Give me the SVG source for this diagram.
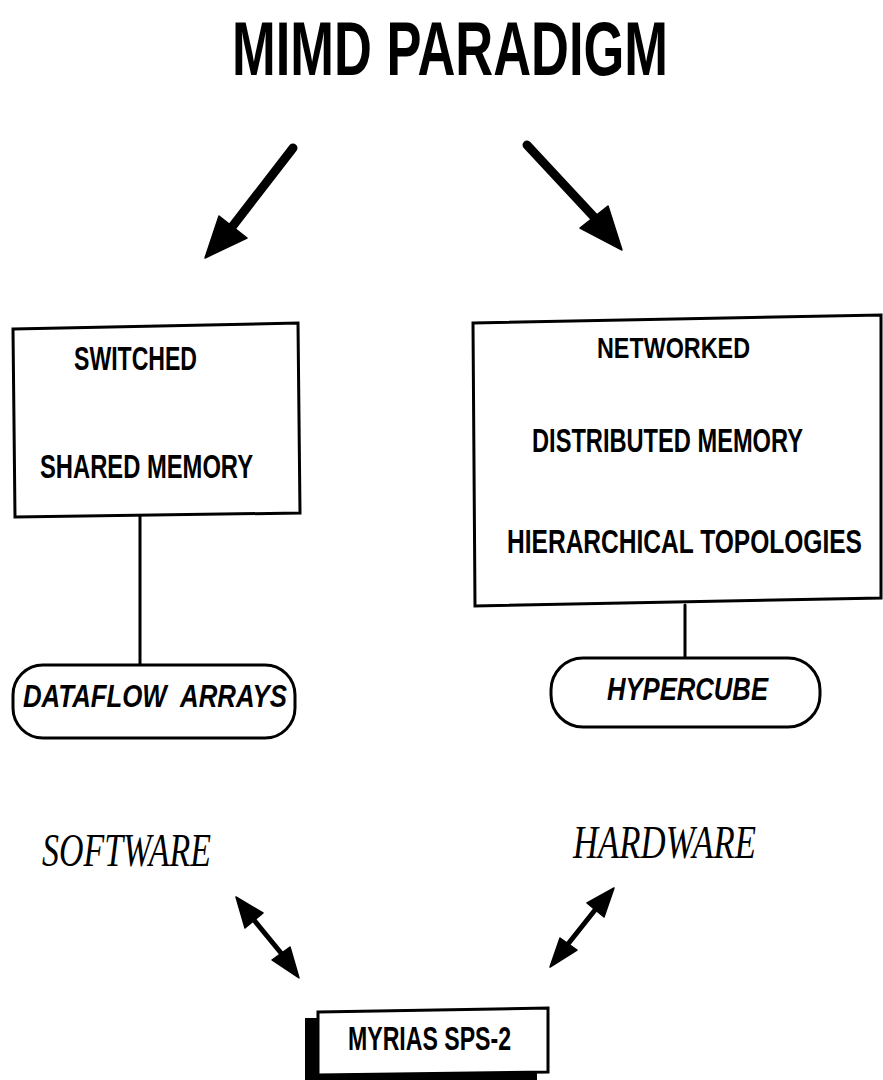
<svg xmlns="http://www.w3.org/2000/svg" width="883" height="1080" viewBox="0 0 883 1080">
<style>
.t{font-family:"Liberation Sans",Arial,sans-serif;font-weight:bold;fill:#000}
.ti{font-family:"Liberation Sans",Arial,sans-serif;font-weight:bold;font-style:italic;fill:#000}
.sc{font-family:"Liberation Serif","DejaVu Serif",serif;font-style:italic;fill:#000}
.box{fill:#fff;stroke:#000;stroke-width:3}
.ln{stroke:#000;fill:none;stroke-linecap:round}
.hd{fill:#000;stroke:#000;stroke-width:1.5;stroke-linejoin:round}
</style>
<rect width="883" height="1080" fill="#fff"/>
<g id="title">
<text class="t" x="232" y="75" font-size="76" textLength="436" lengthAdjust="spacingAndGlyphs">MIMD PARADIGM</text>
</g>
<g id="connectors">
<line class="ln" x1="293" y1="148" x2="232" y2="227" stroke-width="9"/>
<polygon class="hd" points="205,258 219,216 247,238"/>
<line class="ln" x1="527" y1="145" x2="594" y2="217" stroke-width="9"/>
<polygon class="hd" points="622,250 580,228 608,206"/>
<line class="ln" x1="140" y1="516" x2="140" y2="665" stroke-width="3"/>
<line class="ln" x1="685" y1="605" x2="685" y2="659" stroke-width="3"/>
<line class="ln" x1="254" y1="920" x2="281" y2="953" stroke-width="5"/>
<polygon class="hd" points="236,897 245,928 263,913"/>
<polygon class="hd" points="299,978 272,960 290,947"/>
<line class="ln" x1="595" y1="910" x2="568" y2="944" stroke-width="5"/>
<polygon class="hd" points="614,888 587,903 604,917"/>
<polygon class="hd" points="550,967 560,938 577,950"/>
</g>
<g id="switched-box">
<polygon class="box" points="13,329 298,323 300,513 15,517"/>
<text class="t" x="74" y="370" font-size="33" textLength="123" lengthAdjust="spacingAndGlyphs">SWITCHED</text>
<text class="t" x="40" y="478" font-size="34" textLength="213" lengthAdjust="spacingAndGlyphs">SHARED MEMORY</text>
</g>
<g id="networked-box">
<polygon class="box" points="473,323 881,315 881,598 475,606"/>
<text class="t" x="597" y="358" font-size="30" textLength="153" lengthAdjust="spacingAndGlyphs">NETWORKED</text>
<text class="t" transform="translate(532 452) scale(0.693 1)" x="0" y="0" font-size="34" textLength="391" lengthAdjust="spacingAndGlyphs">DISTRIBUTED MEMORY</text>
<text class="t" transform="translate(507 553) scale(0.72 1)" x="0" y="0" font-size="34" textLength="493" lengthAdjust="spacingAndGlyphs">HIERARCHICAL TOPOLOGIES</text>
</g>
<g id="dataflow">
<rect class="box" x="13" y="665" width="282" height="73" rx="30"/>
<text class="ti" x="23" y="707" font-size="31" textLength="264" lengthAdjust="spacingAndGlyphs">DATAFLOW&#160; ARRAYS</text>
</g>
<g id="hypercube">
<rect class="box" x="551" y="658" width="269" height="69" rx="32"/>
<text class="ti" x="607" y="700" font-size="31" textLength="161" lengthAdjust="spacingAndGlyphs">HYPERCUBE</text>
</g>
<g id="software">
<text class="sc" x="42" y="866" font-size="46" textLength="169" lengthAdjust="spacingAndGlyphs">SOFTWARE</text>
</g>
<g id="hardware">
<text class="sc" x="573" y="858" font-size="46" textLength="183" lengthAdjust="spacingAndGlyphs">HARDWARE</text>
</g>
<g id="myrias">
<rect x="305" y="1018" width="232" height="70" fill="#000"/>
<polygon class="box" points="318,1012 548,1008 548,1072 318,1075"/>
<text class="t" x="348" y="1050" font-size="33" textLength="163" lengthAdjust="spacingAndGlyphs">MYRIAS SPS-2</text>
</g>
</svg>
